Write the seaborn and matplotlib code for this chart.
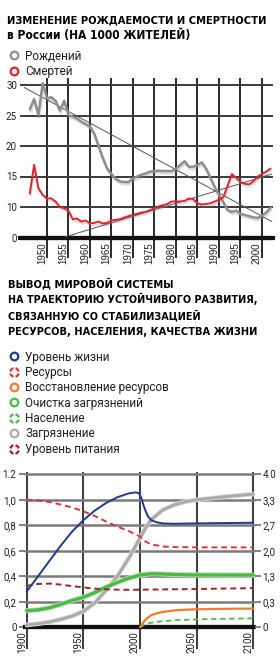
import numpy as np
import matplotlib
matplotlib.use("Agg")
import matplotlib.pyplot as plt
import matplotlib.patheffects as pe
import matplotlib.transforms as mtransforms
from matplotlib.lines import Line2D
from matplotlib.path import Path
import seaborn as sns

# ---------------- data: chart 1 (Russia, per 1000) ----------------
years_ru = list(range(1946, 2003))
births = [26.0, 27.7, 25.1, 30.3, 27.8, 28.0, 27.4, 25.8, 27.4, 25.1,
          24.8, 24.5, 24.0, 23.6, 23.2, 22.0, 20.0, 18.0, 16.3, 15.4,
          14.6, 14.2, 14.1, 14.1, 14.7, 15.0, 15.3, 15.5, 15.8, 15.9,
          15.95, 15.9, 15.9, 15.9, 16.3, 16.9, 17.5, 16.6, 16.6, 16.9,
          17.3, 16.3, 14.8, 13.3, 12.0, 10.8, 9.5, 9.2, 9.4, 8.9,
          8.7, 8.5, 8.3, 8.2, 8.6, 9.1, 9.9]
deaths = [12.2, 16.9, 13.1, 12.0, 11.4, 11.4, 10.9, 10.0, 9.8, 9.4,
          8.0, 8.1, 7.6, 7.8, 7.3, 7.4, 7.6, 7.3, 7.4, 7.8,
          7.9, 8.0, 8.3, 8.5, 8.7, 8.9, 9.1, 9.2, 9.5, 9.8,
          10.1, 10.3, 10.5, 10.9, 10.9, 10.9, 11.0, 11.4, 11.3, 10.6,
          10.4, 10.5, 10.6, 10.9, 11.2, 11.6, 13.5, 15.4, 14.8, 14.1,
          13.8, 13.7, 14.2, 15.0, 15.4, 15.8, 16.3]
trend_births_years = [1944.7, 2002.3]
trend_births = [29.6, 7.6]
trend_deaths_years = [1954.2, 2002.3]
trend_deaths = [5.1, 15.4]
ru_xticks = [1950, 1955, 1960, 1965, 1970, 1975, 1980, 1985, 1990, 1995, 2000]
ru_xlabels = ["1950", "1955", "1960", "1965", "1970", "1975", "1980", "1985", "1990", "1995", "2000"]
ru_yticks = [5, 10, 15, 20, 25, 30]
ru_ylabels = ["0", "10", "15", "20", "25", "30"]
ru_series = ["Рождений", "Смертей"]

# ---------------- data: chart 2 (world model) ----------------
yrs_life = [1900, 1910, 1920, 1930, 1940, 1950, 1960, 1970, 1980, 1990, 1996, 1999,
            2001, 2003, 2005, 2007, 2010, 2015, 2020, 2030, 2050, 2100]
life = [0.28, 0.40, 0.52, 0.64, 0.75, 0.84, 0.915, 0.975, 1.02, 1.05, 1.058, 1.052,
        1.02, 0.96, 0.91, 0.87, 0.84, 0.823, 0.815, 0.812, 0.815, 0.82]
yrs_res = [1900, 1910, 1920, 1930, 1940, 1950, 1960, 1970, 1980, 1990, 2000, 2005,
           2010, 2020, 2030, 2050, 2100]
resources = [1.0, 0.995, 0.983, 0.963, 0.94, 0.91, 0.873, 0.83, 0.79, 0.755, 0.712, 0.672,
             0.65, 0.634, 0.629, 0.627, 0.627]
yrs_rest = [2000, 2003, 2006, 2010, 2015, 2020, 2030, 2040, 2050, 2075, 2100]
restoration = [0.0, 0.04, 0.07, 0.095, 0.11, 0.12, 0.132, 0.138, 0.141, 0.145, 0.147]
yrs_clean = [1900, 1910, 1920, 1930, 1940, 1950, 1960, 1970, 1980, 1990, 2000, 2010,
             2020, 2030, 2050, 2100]
cleaning = [0.13, 0.137, 0.153, 0.18, 0.21, 0.235, 0.272, 0.315, 0.352, 0.385, 0.41, 0.42,
            0.418, 0.414, 0.411, 0.41]
yrs_pop = [2000, 2003, 2007, 2012, 2020, 2030, 2050, 2075, 2100]
population = [0.0, 0.015, 0.03, 0.04, 0.048, 0.055, 0.062, 0.067, 0.07]
yrs_poll = [1900, 1910, 1920, 1930, 1940, 1950, 1960, 1970, 1980, 1990, 1995, 2000,
            2005, 2010, 2020, 2030, 2040, 2050, 2070, 2100]
pollution = [0.018, 0.028, 0.042, 0.062, 0.088, 0.125, 0.19, 0.29, 0.40, 0.54, 0.62, 0.70,
             0.78, 0.845, 0.92, 0.96, 0.985, 1.0, 1.02, 1.045]
yrs_food = [1900, 1910, 1920, 1930, 1940, 1950, 1960, 1970, 1980, 1990, 2000, 2020,
            2050, 2075, 2100]
food = [0.325, 0.34, 0.343, 0.335, 0.323, 0.313, 0.303, 0.298, 0.295, 0.294, 0.295, 0.297,
        0.300, 0.304, 0.307]
w_xticks = [1900, 1950, 2000, 2050, 2100]
w_xlabels = ["1900", "1950", "2000", "2050", "2100"]
w_yticks = [0, 0.2, 0.4, 0.6, 0.8, 1.0, 1.2]
w_ylabels = ["0", "0,2", "0,4", "0,6", "0,8", "1,0", "1.2"]
w_ylabels_right = ["0", "0,3", "1,3", "2,0", "2,7", "3,3", "4.0"]
w_series = ["Уровень жизни", "Ресурсы", "Восстановление ресурсов", "Очистка загрязнений",
            "Население", "Загрязнение", "Уровень питания"]

# ---------------- style ----------------
sns.set_style("white")
plt.rcParams["font.family"] = ["Roboto", "DejaVu Sans"]
TXT = "#231f20"
NARROW = ["Liberation Sans Narrow", "Liberation Sans", "DejaVu Sans"]

W, H = 280, 670
fig = plt.figure(figsize=(W / 100, H / 100), dpi=100)
fig.patch.set_facecolor("white")

def fx(px):
    return px / W

def fy(py):
    return 1 - py / H

renderer = fig.canvas.get_renderer()

def fit_text(x0, x1, ybase, s, fs=10, **kw):
    t = fig.text(fx(x0), fy(ybase), s, fontsize=fs, ha="left", va="baseline",
                 color="black", **kw)
    w = t.get_window_extent(renderer).width
    t.set_fontsize(fs * (x1 - x0) / w)
    return t

TFONT = dict(family="DejaVu Sans", stretch="condensed", weight="bold")
fit_text(7, 267, 23.3, "ИЗМЕНЕНИЕ РОЖДАЕМОСТИ И СМЕРТНОСТИ", **TFONT)
fit_text(7, 190, 39.3, "в России (НА 1000 ЖИТЕЛЕЙ)", **TFONT)
fit_text(8, 173, 287.3, "ВЫВОД МИРОВОЙ СИСТЕМЫ", **TFONT)
fit_text(8, 258, 303.3, "НА ТРАЕКТОРИЮ УСТОЙЧИВОГО РАЗВИТИЯ,", **TFONT)
fit_text(8, 200, 319.3, "СВЯЗАННУЮ СО СТАБИЛИЗАЦИЕЙ", **TFONT)
fit_text(8, 258, 335.0, "РЕСУРСОВ, НАСЕЛЕНИЯ, КАЧЕСТВА ЖИЗНИ", **TFONT)

# ---------------- legend marker shapes ----------------
def dashed_circle(n=4, frac=0.7):
    verts, codes = [], []
    for i in range(n):
        a0 = 2 * np.pi * i / n + np.pi / n * (1 - frac)
        a = np.linspace(a0, a0 + 2 * np.pi / n * frac, 8)
        verts.extend(np.column_stack([np.cos(a), np.sin(a)]).tolist())
        codes.extend([Path.MOVETO] + [Path.LINETO] * 7)
    return Path(verts, codes)

DASHC = dashed_circle()

def handle(color, dashed=False):
    return Line2D([], [], ls="none", marker=DASHC if dashed else "o",
                  mfc="white" if not dashed else "none", mec=color,
                  ms=6 if dashed else 5.5, mew=1.6)

LEG_KW = dict(loc="upper left", frameon=False, fontsize=8.5, handlelength=0.8,
              handletextpad=0.55, labelspacing=0.2, borderpad=0, borderaxespad=0,
              labelcolor=TXT)

# ---------------- chart 1 ----------------
C_BIRTH = "#8e8e8e"
C_DEATH = "#e3232b"
ax1 = fig.add_axes([fx(20), fy(258), (273 - 20) / W, (258 - 78) / H])
ax1.set_xlim(1950 - 27 / 4.3, 1950 + 226 / 4.3)
ax1.set_ylim(5 - 20.5 / 6.1, 30 + 7 / 6.1)

shadow = [pe.SimpleLineShadow(offset=(0.6, -1.6), shadow_color="#888", alpha=0.3),
          pe.Normal()]
sns.lineplot(x=trend_births_years, y=trend_births, ax=ax1, color="#555", lw=0.7,
             estimator=None, zorder=3)
sns.lineplot(x=trend_deaths_years, y=trend_deaths, ax=ax1, color="#555", lw=0.7,
             estimator=None, zorder=3)
sns.lineplot(x=years_ru, y=births, ax=ax1, color=C_BIRTH, lw=1.8, estimator=None,
             zorder=4, path_effects=shadow)
sns.lineplot(x=years_ru, y=deaths, ax=ax1, color=C_DEATH, lw=1.4, estimator=None,
             zorder=5, path_effects=shadow)

ax1.set_xlabel("")
ax1.set_ylabel("")
ax1.set_xticks(ru_xticks)
ax1.set_xticklabels(ru_xlabels)
ax1.set_yticks(ru_yticks)
ax1.set_yticklabels(ru_ylabels)
ax1.tick_params(axis="x", length=0, pad=3.5, labelrotation=90, labelsize=7,
                labelcolor=TXT)
ax1.tick_params(axis="y", length=0, pad=2.2, labelsize=7, labelcolor=TXT)
ax1.grid(axis="x", color="#1a1a1a", lw=1.3)
ax1.grid(axis="y", color="#3a3a3a", lw=1.4)
ax1.yaxis.get_gridlines()[0].set_visible(False)
for s in ["left", "right", "top"]:
    ax1.spines[s].set_visible(False)
ax1.spines["bottom"].set_position(("data", 5))
ax1.spines["bottom"].set_linestyle((0, (0.3, 0.35)))
ax1.spines["bottom"].set_linewidth(3.0)
ax1.spines["bottom"].set_color("#111")
ax1.set_axisbelow(True)

fig.legend([handle(C_BIRTH), handle(C_DEATH)], ru_series,
           bbox_to_anchor=(fx(9.5), fy(49.5)), **LEG_KW)

# ---------------- chart 2 ----------------
C_LIFE = "#1c3a92"
C_RES = "#e0323a"
C_REST = "#f47b2c"
C_GREEN = "#4cb848"
C_POLL = "#ababab"
C_FOOD = "#a3222a"
pxyr = 226.6 / 200
ax2 = fig.add_axes([fx(26.7 - 1.5 * pxyr), fy(649), (226.6 + 3 * pxyr) / W, (649 - 471.7) / H])
ax2.set_xlim(1898.5, 2101.5)
ax2.set_ylim(-21.7 / 127.5, 1.2 + 2.6 / 127.5)

halo_g = [pe.Stroke(linewidth=3.6, foreground="#b5e0ad"), pe.Normal()]
halo_p = [pe.Stroke(linewidth=3.4, foreground="#e0e0e0"), pe.Normal()]
sns.lineplot(x=yrs_poll, y=pollution, ax=ax2, color=C_POLL, lw=2.2, estimator=None,
             zorder=3, path_effects=halo_p)
sns.lineplot(x=yrs_clean, y=cleaning, ax=ax2, color=C_GREEN, lw=2.3, estimator=None,
             zorder=4, path_effects=halo_g)
sns.lineplot(x=yrs_food, y=food, ax=ax2, color=C_FOOD, lw=1.4, linestyle=(0, (3, 2)),
             estimator=None, zorder=5)
sns.lineplot(x=yrs_res, y=resources, ax=ax2, color=C_RES, lw=1.4, linestyle=(0, (3, 2)),
             estimator=None, zorder=5)
sns.lineplot(x=yrs_pop, y=population, ax=ax2, color=C_GREEN, lw=1.3, linestyle=(0, (3, 2)),
             estimator=None, zorder=5)
sns.lineplot(x=yrs_rest, y=restoration, ax=ax2, color=C_REST, lw=1.6, estimator=None,
             zorder=5)
sns.lineplot(x=yrs_life, y=life, ax=ax2, color=C_LIFE, lw=1.4, estimator=None, zorder=6)

ax2.set_xlabel("")
ax2.set_ylabel("")
ax2.set_xticks(w_xticks)
ax2.set_xticklabels(w_xlabels)
ax2.set_yticks(w_yticks)
ax2.set_yticklabels(w_ylabels)
ax2.tick_params(axis="x", length=0, pad=2.5, labelrotation=90, labelsize=7,
                labelcolor=TXT)
ax2.tick_params(axis="y", length=4, width=1.3, color="#777", pad=2.2, direction="out",
                labelsize=7, labelcolor=TXT)
ax2.grid(axis="x", color="#1a1a1a", lw=1.2)
ax2.grid(axis="y", color="#7a7a7a", lw=1.8)
ax2.yaxis.get_gridlines()[0].set_visible(False)
for s in ["left", "right", "top"]:
    ax2.spines[s].set_visible(False)
ax2.spines["bottom"].set_position(("data", 0))
ax2.spines["bottom"].set_linestyle((0, (0.3, 0.35)))
ax2.spines["bottom"].set_linewidth(3.0)
ax2.spines["bottom"].set_color("#111")
ax2.set_axisbelow(True)

ax2r = ax2.twinx()
ax2r.set_ylim(ax2.get_ylim())
ax2r.set_yticks(w_yticks)
ax2r.set_yticklabels(w_ylabels_right)
ax2r.tick_params(axis="y", length=4, width=1.3, color="#777", pad=1.2, direction="out",
                 labelsize=7, labelcolor=TXT)
for s in ["left", "right", "top", "bottom"]:
    ax2r.spines[s].set_visible(False)
ax2r.grid(False)

fig.legend([handle(C_LIFE), handle(C_RES, True), handle(C_REST), handle(C_GREEN),
            handle(C_GREEN, True), handle(C_POLL), handle(C_FOOD, True)],
           w_series, bbox_to_anchor=(fx(9.5), fy(350.5)), **LEG_KW)

# narrow font for chart-1 years, shift year labels left of their grid lines
off = mtransforms.ScaledTranslation(-0.05, 0, fig.dpi_scale_trans)
for lab in ax1.get_xticklabels():
    lab.set_fontfamily(NARROW)
    lab.set_rotation(90)
    lab.set_transform(lab.get_transform() + off)
for lab in ax2.get_xticklabels():
    lab.set_rotation(90)
    lab.set_transform(lab.get_transform() + off)

fig.savefig("out.png", dpi=100, facecolor="white")
